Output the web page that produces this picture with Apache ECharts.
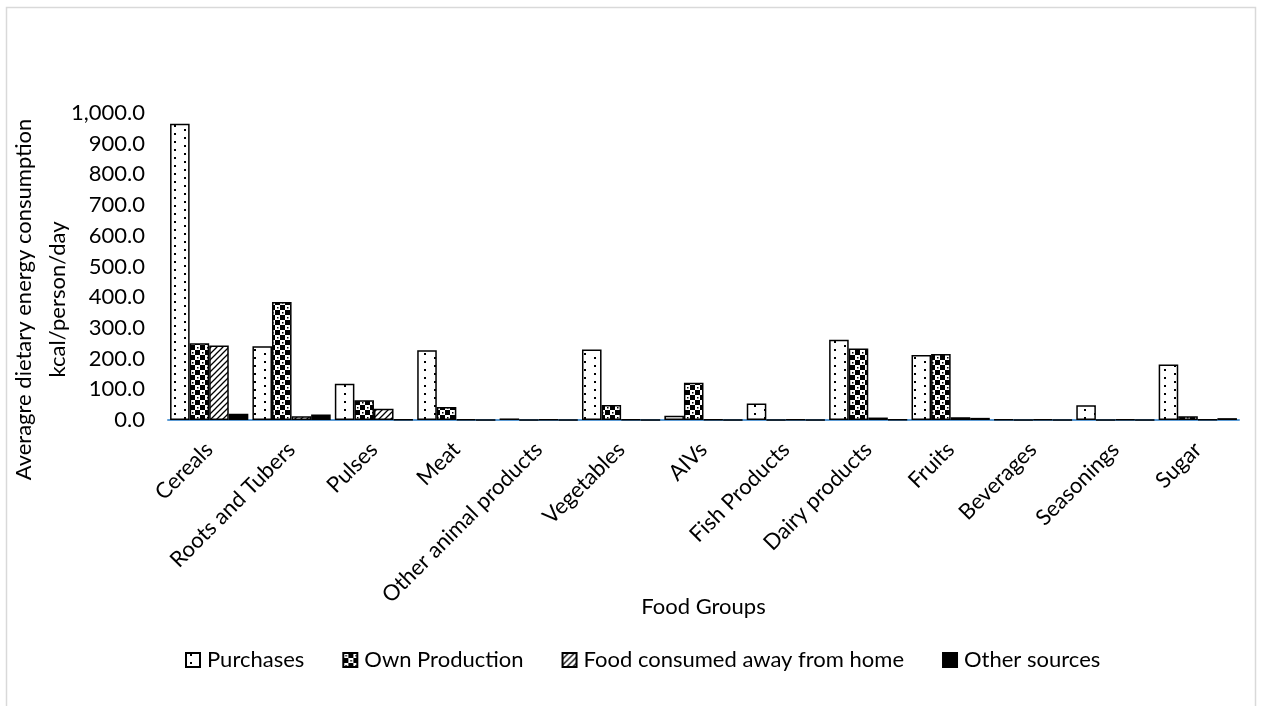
<!DOCTYPE html>
<html><head><meta charset="utf-8">
<script src="https://cdn.jsdelivr.net/npm/echarts@6/dist/echarts.min.js"></script>
<style>html,body{margin:0;padding:0;background:#fff}#c{width:1261px;height:706px}</style>
</head><body><div id="c"></div>
<script>
const categories = ['Cereals','Roots and Tubers','Pulses','Meat','Other animal products','Vegetables','AIVs','Fish Products','Dairy products','Fruits','Beverages','Seasonings','Sugar'];
const purchases = [965,240,118,227,5,230,14,54,261,212,1,48,181];
const ownProduction = [250,384,64,42,0.3,49,121,0.5,233,215,0.5,0.5,12];
const awayFromHome = [243,12,37,2,1,1,1,1,8,9,1,1,1];
const otherSources = [20,18,1,0.5,0.5,0.5,0.5,0.5,1,7,0.5,0.5,6];
const seriesNames = ['Purchases','Own Production','Food consumed away from home','Other sources'];
const yMin = 0, yMax = 1000, yInterval = 100;
const yTitle = 'Averagre dietary energy consumption\nkcal/person/day';
const xTitle = 'Food Groups';

function tile(w, h, draw) {
  const c = document.createElement('canvas');
  c.width = w; c.height = h;
  draw(c.getContext('2d'), w, h);
  return c;
}
const dotTile = tile(20, 8, (g, w, h) => {
  g.fillStyle = '#fff'; g.fillRect(0, 0, w, h);
  g.fillStyle = '#000'; g.fillRect(4, 1, 2, 2); g.fillRect(14, 5, 2, 2);
});
const checkTile = tile(10, 10, (g, w, h) => {
  g.fillStyle = '#000'; g.fillRect(0, 0, w, h);
  g.fillStyle = '#fff'; g.fillRect(0, 0, 5, 5); g.fillRect(5, 5, 5, 5);
  g.fillStyle = '#000'; g.fillRect(2, 2, 1.5, 1.5); g.fillRect(7, 7, 1.5, 1.5);
});
const diagTile = tile(6, 6, (g, w, h) => {
  g.fillStyle = '#fff'; g.fillRect(0, 0, w, h);
  g.strokeStyle = '#000'; g.lineWidth = 1.3;
  g.beginPath();
  g.moveTo(0, 6); g.lineTo(6, 0);
  g.moveTo(-1, 1); g.lineTo(1, -1);
  g.moveTo(5, 7); g.lineTo(7, 5);
  g.stroke();
});

const fills = [
  {image: dotTile, repeat: 'repeat'},
  {image: checkTile, repeat: 'repeat'},
  {image: diagTile, repeat: 'repeat'},
  '#000'
];
const dataSets = [purchases, ownProduction, awayFromHome, otherSources];
const FONT = 'Lato';

const chart = echarts.init(document.getElementById('c'), null, {renderer: 'canvas'});
chart.setOption({
  animation: false,
  backgroundColor: '#fff',
  textStyle: {fontFamily: FONT, color: '#000'},
  graphic: [{
    type: 'rect', silent: true, z: -1,
    shape: {x: 6.5, y: 7.5, width: 1249, height: 720},
    style: {fill: 'none', stroke: '#d9d9d9', lineWidth: 1.5}
  }],
  grid: {left: 168, right: 22, top: 113, bottom: 286, containLabel: false, outerBoundsMode: 'none'},
  legend: {
    data: seriesNames,
    left: 180, top: 644,
    itemWidth: 14, itemHeight: 14, itemGap: 38,
    icon: 'rect',
    textStyle: {fontFamily: FONT, fontSize: 22, color: '#000', padding: [0, 0, 0, 2]}
  },
  xAxis: {
    type: 'category',
    data: categories,
    name: xTitle,
    nameLocation: 'middle',
    nameGap: 176,
    nameMoveOverlap: false,
    nameTextStyle: {fontFamily: FONT, fontSize: 22, color: '#000'},
    axisLine: {show: true, lineStyle: {color: '#5B9BD5', width: 2}},
    axisTick: {show: false},
    axisLabel: {rotate: 45, margin: 26, interval: 0, fontFamily: FONT, fontSize: 22, color: '#000'},
    splitLine: {show: false}
  },
  yAxis: {
    type: 'value',
    min: yMin, max: yMax, interval: yInterval,
    name: yTitle,
    nameLocation: 'middle',
    nameRotate: 90,
    nameGap: 93,
    nameMoveOverlap: false,
    nameTextStyle: {fontFamily: FONT, fontSize: 22, color: '#000', lineHeight: 34, padding: [0, 66, 0, 0]},
    axisLine: {show: false},
    axisTick: {show: false},
    splitLine: {show: false},
    axisLabel: {
      margin: 23, fontFamily: FONT, fontSize: 22, color: '#000',
      formatter: v => v.toLocaleString('en-US', {minimumFractionDigits: 1, maximumFractionDigits: 1})
    }
  },
  series: seriesNames.map((n, i) => ({
    name: n,
    type: 'bar',
    data: dataSets[i],
    barGap: '0%',
    barCategoryGap: '5%',
    itemStyle: {color: fills[i], borderColor: '#000', borderWidth: 1.5}
  }))
});
</script></body></html>
